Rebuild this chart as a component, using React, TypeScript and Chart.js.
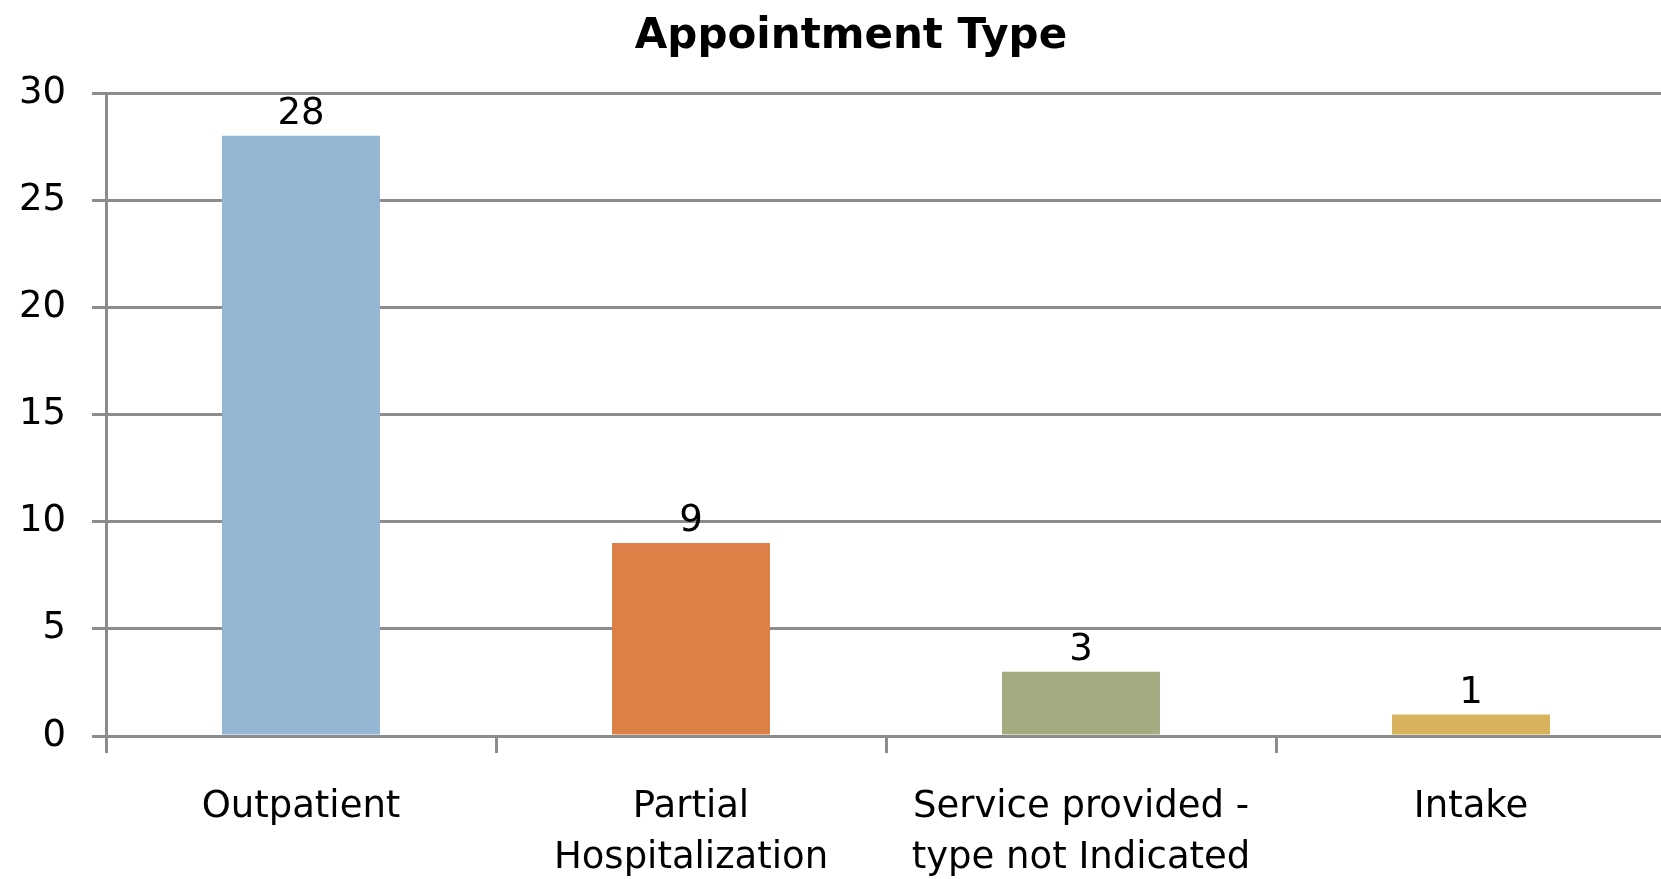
import React, { useEffect, useRef } from "react";
import { Chart, registerables } from "chart.js";

Chart.register(...registerables);

const title = "Appointment Type";
const categories: (string | string[])[] = [
  "Outpatient",
  ["Partial", "Hospitalization"],
  ["Service provided -", "type not Indicated"],
  "Intake",
];
const values = [28, 9, 3, 1];
const barColors = ["#94B6D2", "#DD8047", "#A5AB81", "#D8B25C"];
const yTicks = [0, 5, 10, 15, 20, 25, 30];

const FONT = "'DejaVu Sans', sans-serif";
const GRID = "#8c8c8c";

const valueLabels = {
  id: "valueLabels",
  afterDatasetsDraw(chart: any) {
    const ctx = chart.ctx;
    const meta = chart.getDatasetMeta(0);
    ctx.save();
    ctx.font = `37px ${FONT}`;
    ctx.fillStyle = "#000";
    ctx.textAlign = "center";
    ctx.textBaseline = "alphabetic";
    meta.data.forEach((bar: any, i: number) => {
      ctx.fillText(String(values[i]), bar.x, bar.y - 12);
    });
    ctx.restore();
  },
};

const titlePlugin = {
  id: "customTitle",
  afterDraw(chart: any) {
    const ctx = chart.ctx;
    ctx.save();
    ctx.font = `bold 42px ${FONT}`;
    ctx.fillStyle = "#000";
    ctx.textAlign = "center";
    ctx.textBaseline = "alphabetic";
    ctx.fillText(title, 851, 48);
    ctx.restore();
  },
};

export default function App() {
  const ref = useRef<HTMLCanvasElement | null>(null);
  useEffect(() => {
    if (!ref.current) return;
    const chart = new Chart(ref.current, {
      type: "bar",
      data: {
        labels: categories,
        datasets: [
          {
            data: values,
            backgroundColor: barColors,
            borderWidth: 0,
            barPercentage: 0.405,
            categoryPercentage: 1,
          },
        ],
      },
      options: {
        responsive: false,
        animation: false,
        layout: { padding: { left: 10, right: 4, top: 93, bottom: 0 } },
        plugins: { legend: { display: false }, tooltip: { enabled: false }, title: { display: false } },
        scales: {
          x: {
            grid: {
              offset: true,
              drawOnChartArea: false,
              drawTicks: true,
              tickLength: 17,
              color: GRID,
              lineWidth: 3,
            },
            border: { display: true, color: GRID, width: 3 },
            ticks: {
              color: "#000",
              font: { family: FONT, size: 37, lineHeight: 1.38 },
              padding: 29,
              maxRotation: 0,
              autoSkip: false,
            },
            afterFit: (axis: any) => {
              axis.height = 143;
            },
          },
          y: {
            min: 0,
            max: 30,
            afterBuildTicks: (axis: any) => {
              axis.ticks = yTicks.map((v) => ({ value: v }));
            },
            grid: {
              color: GRID,
              lineWidth: 3,
              tickLength: 14,
              drawTicks: true,
            },
            border: { display: true, color: GRID, width: 3 },
            ticks: {
              color: "#000",
              font: { family: FONT, size: 37 },
              padding: 26,
            },
            afterFit: (axis: any) => {
              axis.width = 96;
            },
          },
        },
      },
      plugins: [valueLabels, titlePlugin],
    });
    return () => chart.destroy();
  }, []);
  return (
    <div
      style={{
        position: "fixed",
        top: 0,
        left: 0,
        width: 1661,
        height: 879,
        overflow: "hidden",
        background: "#fff",
      }}
    >
      <canvas ref={ref} width={1670} height={879} style={{ width: 1670, height: 879, display: "block" }} />
    </div>
  );
}
